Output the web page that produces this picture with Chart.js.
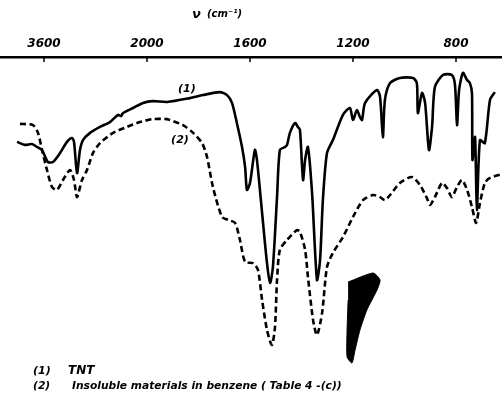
<!DOCTYPE html>
<html>
<head>
<meta charset="utf-8">
<script src="https://cdn.jsdelivr.net/npm/chart.js@4"></script>
<style>
  html, body { margin: 0; padding: 0; background: #fff; }
  #wrap { width: 502px; height: 403px; }
</style>
</head>
<body>
<div id="wrap"><canvas id="myChart"></canvas></div>
<script>
// wavenumber (cm-1) and transmittance (arbitrary %)
const tnt_nu = [4019, 3895, 3786, 3709, 3631, 3538, 3460, 3351, 3243, 3165, 3134, 3087, 3041, 2994, 2885, 2730, 2575, 2450, 2404, 2373, 2217, 2062,
  1977, 1922, 1833, 1783, 1717, 1689, 1670, 1651, 1631, 1619, 1612, 1600, 1581, 1573, 1553, 1534, 1522, 1511, 1495, 1484, 1464, 1456, 1445, 1425,
  1414, 1406, 1394, 1386, 1375, 1359, 1340, 1328, 1317, 1301, 1278, 1239, 1212, 1200, 1185, 1173, 1165, 1153, 1107, 1095, 1084, 1076, 1056, 1018,
  967, 952, 948, 932, 920, 905, 893, 882, 851, 816, 804, 796, 788, 773, 757, 746, 738, 736, 726, 719, 707, 688, 668, 649];
const tnt_T = [71.7, 70.7, 71.0, 70.0, 69.0, 65.0, 65.0, 68.0, 71.7, 73.0, 71.7, 61.3, 69.0, 72.3, 74.7, 76.7, 78.3, 80.7, 80.3, 81.3, 83.0, 84.7,
  85.3, 85.0, 86.3, 87.3, 88.3, 87.3, 84.7, 78.0, 70.0, 63.3, 55.7, 58.0, 69.0, 65.7, 48.0, 31.3, 24.7, 30.0, 53.3, 69.0, 70.0, 70.7, 74.7, 78.0,
  76.7, 75.7, 59.0, 65.7, 70.0, 54.7, 25.7, 32.3, 52.3, 68.0, 72.3, 80.7, 83.0, 79.0, 82.3, 80.0, 79.0, 84.7, 89.0, 86.7, 73.3, 85.7, 91.3, 93.0,
  93.0, 91.3, 81.3, 88.0, 84.7, 69.0, 76.7, 90.0, 94.0, 94.0, 90.7, 77.3, 89.0, 94.7, 92.3, 91.3, 88.0, 65.7, 73.3, 49.0, 72.3, 71.3, 85.7, 88.3];

const insol_nu = [3973, 3771, 3693, 3631, 3553, 3476, 3398, 3305, 3196, 3134, 3087, 3010, 2932, 2839, 2730, 2528, 2311, 2109,
  1977, 1922, 1911, 1860, 1821, 1786, 1767, 1744, 1709, 1685, 1658, 1639, 1619, 1588, 1569, 1553, 1534, 1515, 1503, 1495, 1484, 1456,
  1418, 1406, 1386, 1375, 1355, 1340, 1320, 1301, 1278, 1239, 1200, 1161, 1122, 1095, 1076, 1056, 1018, 971, 940, 913, 901, 882,
  854, 835, 816, 796, 777, 757, 738, 722, 707, 688, 668, 621];
const insol_T = [77.7, 77.3, 74.7, 69.0, 62.3, 56.7, 55.7, 59.0, 62.3, 59.0, 53.3, 59.0, 62.3, 68.0, 71.3, 74.7, 76.7, 78.3,
  79.3, 79.3, 79.0, 77.3, 74.7, 71.3, 66.7, 56.7, 46.7, 45.7, 44.7, 39.0, 31.7, 31.3, 29.0, 19.0, 9.0, 4.0, 10.0, 25.7, 35.7, 39.0,
  42.3, 41.7, 35.7, 26.7, 12.3, 7.3, 14.7, 30.0, 34.7, 40.0, 46.7, 52.3, 54.0, 53.3, 52.3, 54.0, 58.0, 60.0, 57.3, 53.0, 50.7, 53.3,
  58.0, 56.3, 53.3, 56.7, 59.0, 55.7, 50.0, 44.7, 51.3, 58.0, 59.7, 61.0];

// ink blot on the scan
const blot_nu = [1219, 1122, 1095, 1107, 1146, 1173, 1192, 1204, 1223, 1223, 1219];
const blot_T = [25.0, 28.0, 25.7, 22.3, 15.7, 9.0, 2.3, -2.0, 0.0, 9.0, 19.0];

const tickNu = [3600, 2000, 1600, 1200, 800];

// the spectrometer chart changes scale at 2000 cm-1
function toPos(nu) {
  return nu >= 2000 ? -(nu - 2000) / 1600 : (2000 - nu) / 400;
}
function pts(xs, ys) {
  return xs.map((v, i) => ({ x: toPos(v), y: ys[i] }));
}

const FAM = '"DejaVu Sans", Arial, sans-serif';

const extras = {
  id: 'extras',
  afterDraw(chart) {
    const c = chart.ctx;
    const xs = chart.scales.x, ys = chart.scales.y;
    const top = chart.chartArea.top;
    c.save();
    c.strokeStyle = '#000';
    c.lineWidth = 1.5;
    tickNu.forEach(n => {
      const px = xs.getPixelForValue(toPos(n));
      c.beginPath(); c.moveTo(px, top); c.lineTo(px, top + 5); c.stroke();
    });
    c.fillStyle = '#000';
    c.textBaseline = 'middle';
    c.textAlign = 'left';
    c.font = 'bold italic 13px ' + FAM;
    c.fillText('\u03BD', 192, 15);
    c.font = 'bold italic 10px ' + FAM;
    c.fillText('(cm\u207B\u00B9)', 207, 14);
    c.font = 'bold italic 11px ' + FAM;
    c.textAlign = 'center';
    c.fillText('(1)', xs.getPixelForValue(toPos(1845)), ys.getPixelForValue(89.3));
    c.fillText('(2)', xs.getPixelForValue(toPos(1872)), ys.getPixelForValue(72.3));
    c.textAlign = 'left';
    c.font = 'bold italic 11px ' + FAM;
    c.fillText('(1)', 33, 371);
    c.font = 'bold italic 12px ' + FAM;
    c.fillText('TNT', 68, 371);
    c.font = 'bold italic 10.7px ' + FAM;
    c.fillText('(2)', 33, 386);
    c.fillText('Insoluble materials in benzene ( Table 4 -(c))', 72, 386);
    c.restore();
  }
};

const ctx = document.getElementById('myChart');
new Chart(ctx, {
  type: 'scatter',
  data: {
    datasets: [
      {
        label: 'TNT',
        data: pts(tnt_nu, tnt_T),
        showLine: true,
        borderColor: '#000',
        borderWidth: 2.6,
        pointRadius: 0,
        tension: 0.25
      },
      {
        label: 'Insoluble materials in benzene',
        data: pts(insol_nu, insol_T),
        showLine: true,
        borderColor: '#000',
        borderWidth: 2.6,
        borderDash: [6, 3.5],
        pointRadius: 0,
        tension: 0.25
      },
      {
        label: 'blot',
        data: pts(blot_nu, blot_T),
        showLine: true,
        borderColor: '#000',
        backgroundColor: '#000',
        borderWidth: 1,
        pointRadius: 0,
        fill: 'shape',
        tension: 0.2
      }
    ]
  },
  options: {
    responsive: true,
    maintainAspectRatio: false,
    animation: false,
    layout: { padding: { left: 0, right: 0, top: 0, bottom: 16 } },
    scales: {
      x: {
        type: 'linear',
        position: 'top',
        min: -147 / 103,
        max: 355 / 103,
        afterFit: s => { s.height = 57; },
        afterBuildTicks: s => { s.ticks = tickNu.map(n => ({ value: toPos(n) })); },
        grid: { display: false, drawTicks: false },
        border: { display: true, color: '#000', width: 2.5 },
        ticks: {
          padding: 6,
          color: '#000',
          maxRotation: 0,
          autoSkip: false,
          font: { family: FAM, size: 12, style: 'italic', weight: 'bold' },
          callback: (v, i) => String(tickNu[i])
        }
      },
      y: {
        display: false,
        min: -10,
        max: 100
      }
    },
    plugins: {
      legend: { display: false },
      tooltip: { enabled: false }
    }
  },
  plugins: [extras]
});
</script>
</body>
</html>
